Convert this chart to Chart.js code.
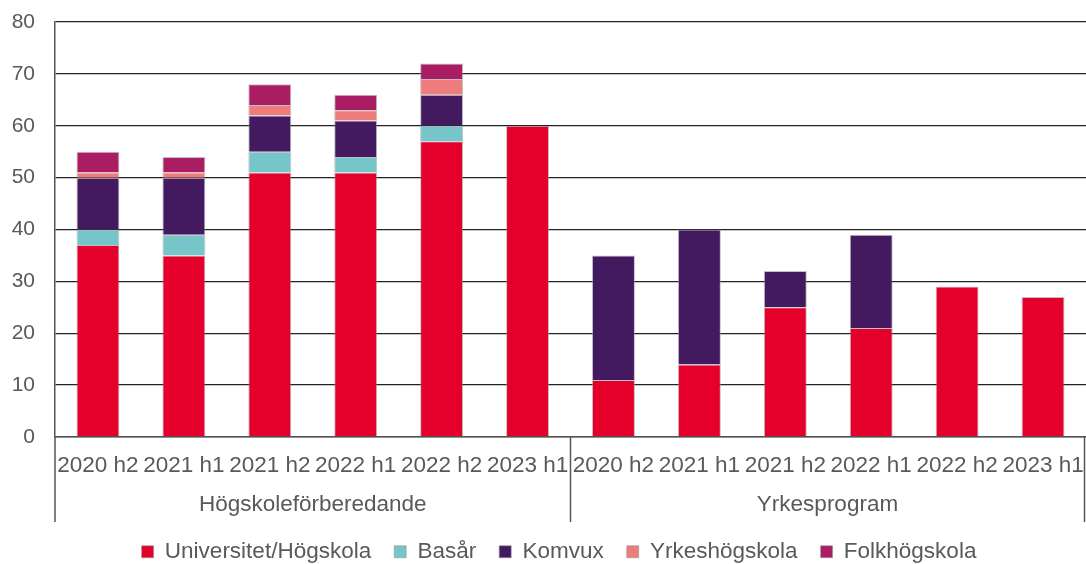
<!DOCTYPE html>
<html>
<head>
<meta charset="utf-8">
<script src="https://cdn.jsdelivr.net/npm/chart.js@4"></script>
<style>
  html, body { margin: 0; padding: 0; background: #fff; }
  #wrap { width: 1086px; height: 564px; position: relative; }
</style>
</head>
<body>
<div id="wrap"><canvas id="chart"></canvas></div>
<script>
const periods = ['2020 h2', '2021 h1', '2021 h2', '2022 h1', '2022 h2', '2023 h1'];
const programs = ['Högskoleförberedande', 'Yrkesprogram'];
const labels = programs.flatMap(() => periods);

const universitet   = [37, 35, 51, 51, 57, 60, 11, 14, 25, 21, 29, 27];
const basar         = [3, 4, 4, 3, 3, null, null, null, null, null, null, null];
const komvux        = [10, 11, 7, 7, 6, null, 24, 26, 7, 18, null, null];
const yrkeshogskola = [1, 1, 2, 2, 3, null, null, null, null, null, null, null];
const folkhogskola  = [4, 3, 4, 3, 3, null, null, null, null, null, null, null];

const FONT = '"Liberation Sans", Arial, sans-serif';
const TEXT = '#595959';
const PLOT_BOTTOM = 437;

const ds = (label, data, color) => ({
  label, data, backgroundColor: color,
  borderColor: 'rgba(150,150,150,0.6)', borderWidth: 1,
  barPercentage: 0.5, categoryPercentage: 1,
});

// group labels + separator lines under the category axis
const groupAxis = {
  id: 'groupAxis',
  afterLayout(chart) {
    // legend row sits a bit lower and right of centre in the original
    const L = chart.legend;
    L.top += 11; L.bottom += 11;
    L.left += 16; L.right += 16;
  },
  afterDraw(chart) {
    const { ctx } = chart;
    const x = chart.scales.x;
    const n = periods.length;
    const bounds = [x.left];
    programs.forEach((_, g) => {
      const last = (g + 1) * n - 1;
      bounds.push(last === labels.length - 1 ? x.right - 1.5 : (x.getPixelForTick(last) + x.getPixelForTick(last + 1)) / 2);
    });
    ctx.save();
    ctx.strokeStyle = '#555';
    ctx.lineWidth = 1.5;
    bounds.forEach(b => {
      ctx.beginPath();
      ctx.moveTo(b, PLOT_BOTTOM);
      ctx.lineTo(b, 522);
      ctx.stroke();
    });
    ctx.fillStyle = TEXT;
    ctx.font = `22.5px ${FONT}`;
    ctx.textAlign = 'center';
    ctx.textBaseline = 'middle';
    programs.forEach((p, g) => ctx.fillText(p, (bounds[g] + bounds[g + 1]) / 2, 505));
    ctx.restore();
  }
};

new Chart(document.getElementById('chart'), {
  type: 'bar',
  data: {
    labels,
    datasets: [
      ds('Universitet/Högskola', universitet, '#E4002B'),
      ds('Basår', basar, '#76C5C8'),
      ds('Komvux', komvux, '#431960'),
      ds('Yrkeshögskola', yrkeshogskola, '#EE7C7C'),
      ds('Folkhögskola', folkhogskola, '#AA1D63'),
    ]
  },
  options: {
    responsive: true,
    maintainAspectRatio: false,
    animation: false,
    layout: { padding: { top: 22, right: 0, left: 0, bottom: 2 } },
    plugins: {
      legend: {
        position: 'bottom',
        labels: {
          boxWidth: 12, boxHeight: 12, padding: 23,
          color: TEXT, font: { family: FONT, size: 22.5 },
        }
      },
      tooltip: { enabled: false },
    },
    scales: {
      x: {
        stacked: true,
        grid: { display: false, drawTicks: false },
        border: { color: '#555', width: 1.5 },
        ticks: {
          color: TEXT, font: { family: FONT, size: 22.5 },
          padding: 15, maxRotation: 0, minRotation: 0, autoSkip: false,
        },
        afterFit(s) {
          s.paddingLeft = 0;
          s.paddingRight = 0;
          s.height = 564 - PLOT_BOTTOM - s.chart.legend.height - 2;
        }
      },
      y: {
        stacked: true,
        min: 0, max: 80,
        grid: { color: '#222', lineWidth: 1.3, drawTicks: false },
        border: { color: '#555', width: 1.5 },
        ticks: {
          stepSize: 10, color: TEXT, font: { family: FONT, size: 21 }, padding: 20,
        },
        afterFit(s) {
          s.width = 55;
          s.paddingTop = 0;
          s.paddingBottom = 0;
        }
      }
    }
  },
  plugins: [groupAxis]
});
</script>
</body>
</html>
